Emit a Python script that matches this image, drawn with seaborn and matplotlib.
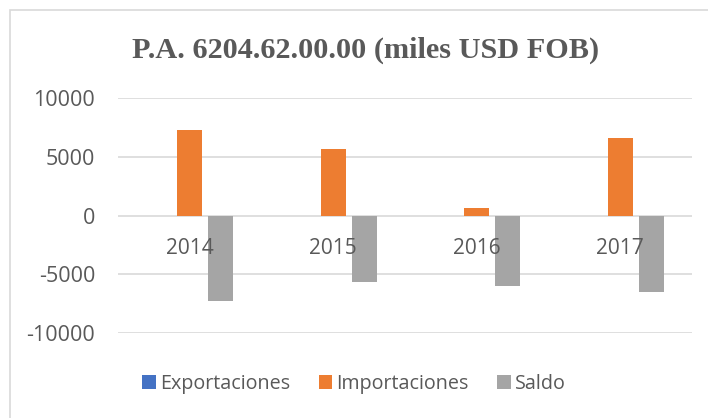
import matplotlib
matplotlib.use("Agg")
import matplotlib.pyplot as plt
import pandas as pd
import seaborn as sns
from matplotlib.patches import Rectangle

# ── Data ──────────────────────────────────────────────────────────────────────
years = ["2014", "2015", "2016", "2017"]
series = ["Exportaciones", "Importaciones", "Saldo"]
exportaciones = [0, 0, 0, 0]
importaciones = [7240, 5680, 620, 6580]
saldo = [-7240, -5620, -5960, -6530]
y_ticks = [-10000, -5000, 0, 5000, 10000]

colors = ["#4472C4", "#ED7D31", "#A5A5A5"]
text_color = "#595959"
grid_color = "#D9D9D9"

df = pd.DataFrame({
    "year": years * 3,
    "serie": [s for s in series for _ in years],
    "valor": exportaciones + importaciones + saldo,
})

# ── Plot ──────────────────────────────────────────────────────────────────────
sns.set_theme(style="white")
plt.rcParams["font.family"] = ["Open Sans", "DejaVu Sans"]

fig = plt.figure(figsize=(7.08, 4.18), dpi=100)
ax = fig.add_axes([118 / 708, 1 - 333 / 418, (692 - 118) / 708, (333 - 98) / 418])

sns.barplot(data=df, x="year", y="valor", hue="serie", hue_order=series,
            palette=colors, width=0.645, gap=0.19, saturation=1,
            linewidth=0, ax=ax, legend=True)

ax.set_ylim(-10000, 10000)
ax.set_yticks(y_ticks)
ax.set_yticklabels([str(t) for t in y_ticks])
ax.set_xlim(-0.5, len(years) - 0.5)
ax.set_xlabel("")
ax.set_ylabel("")

for s in ax.spines.values():
    s.set_visible(False)
ax.spines["bottom"].set_position(("data", 0))

ax.yaxis.grid(True, color=grid_color, lw=1.2)
ax.set_axisbelow(True)
ax.xaxis.set_zorder(5)  # year labels sit on top of the bars
ax.tick_params(axis="x", length=0, pad=16, labelsize=15, labelcolor=text_color)
ax.tick_params(axis="y", length=0, pad=16.5, labelsize=15.5, labelcolor=text_color)

handles, labels = ax.get_legend_handles_labels()
ax.get_legend().remove()
fig.legend(handles, labels, loc="center", bbox_to_anchor=(0.5, 1 - 384 / 418),
           ncol=3, frameon=False, fontsize=14.2, labelcolor=text_color,
           handlelength=0.7, handleheight=0.7, handletextpad=0.2,
           columnspacing=1.45)

fig.text(366 / 708, 1 - 50 / 418, "P.A. 6204.62.00.00 (miles USD FOB)",
         ha="center", va="center", fontsize=21.8, fontweight="bold",
         color=text_color, family="Liberation Serif")

# chart frame (left and top edges visible in the source crop)
fig.add_artist(Rectangle((10 / 708, -0.1), 1.0, 1.1 - 10 / 418,
                         transform=fig.transFigure, fill=False,
                         edgecolor=grid_color, lw=1.2))

fig.savefig("out.png", dpi=100)
